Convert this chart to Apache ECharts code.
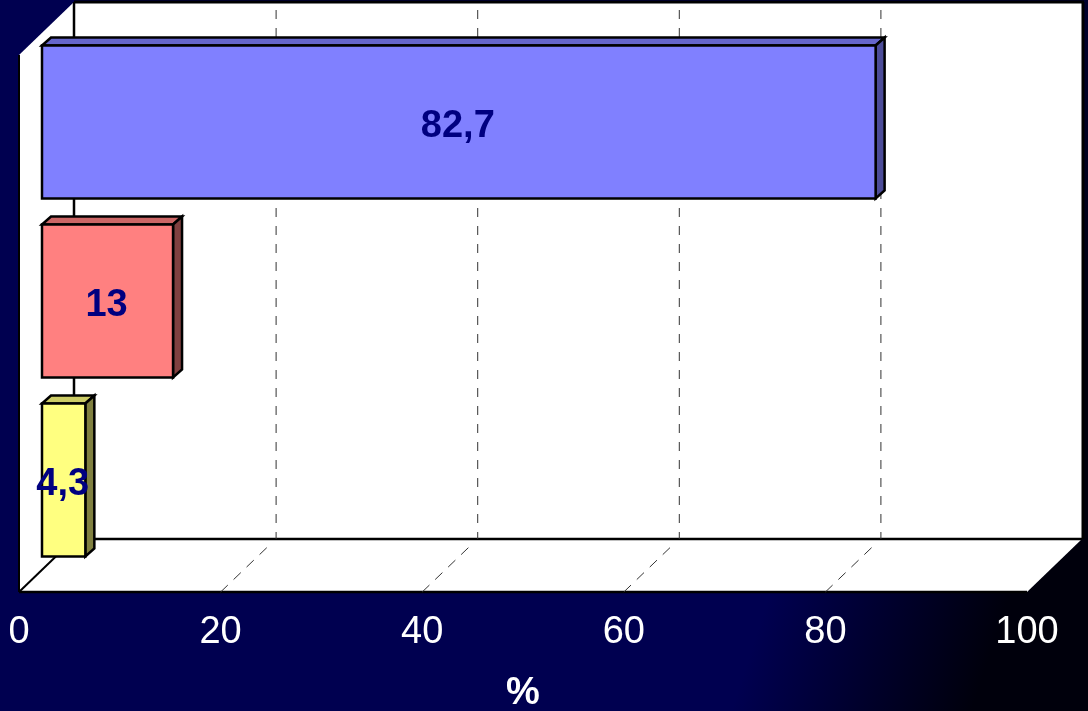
<!DOCTYPE html>
<html>
<head>
<meta charset="utf-8">
<style>html,body{margin:0;padding:0;background:#000050}#c{width:1088px;height:711px}</style>
<script src="https://cdn.jsdelivr.net/npm/echarts@6/dist/echarts.min.js"></script>
</head>
<body>
<div id="c"></div>
<script>
var categories = ['A', 'B', 'C'];
var values = [82.7, 13, 4.3];
var gridTicks = [20, 40, 60, 80];
var frontColors = ['#8080FF', '#FF8080', '#FFFF80'];
var topColors = ['#6666CC', '#CC6666', '#CCCC66'];
var sideColors = ['#4D4D99', '#804040', '#808040'];
var axisName = '%';

var DX = 55, DY = 53;
var FONT = '"Liberation Sans", Arial, sans-serif';

function poly(points, fill, stroke, w) {
  return { type: 'polygon', shape: { points: points }, style: { fill: fill, stroke: stroke, lineWidth: w, lineJoin: 'miter' } };
}
function seg(x1, y1, x2, y2, stroke, w, dash) {
  return { type: 'line', shape: { x1: x1, y1: y1, x2: x2, y2: y2 }, style: { stroke: stroke, lineWidth: w, lineDash: dash || null } };
}

var chart = echarts.init(document.getElementById('c'), null, { renderer: 'canvas' });
chart.setOption({
  animation: false,
  backgroundColor: {
    type: 'linear', x: 0, y: 0, x2: 1, y2: 0.5,
    colorStops: [
      { offset: 0, color: '#000050' },
      { offset: 0.8, color: '#000050' },
      { offset: 1, color: '#00000c' }
    ]
  },
  grid: { left: 19, top: 55, width: 1008, height: 537, outerBoundsMode: 'none' },
  xAxis: {
    type: 'value', min: 0, max: 100, interval: 20,
    axisLine: { show: false }, axisTick: { show: false }, splitLine: { show: false },
    axisLabel: { color: '#fff', fontFamily: FONT, fontSize: 38, margin: 22, hideOverlap: false, showMinLabel: true, showMaxLabel: true },
    name: axisName, nameLocation: 'middle', nameGap: 83,
    nameTextStyle: { color: '#fff', fontFamily: FONT, fontSize: 38, fontWeight: 'bold' }
  },
  yAxis: {
    type: 'category', inverse: true, data: categories,
    axisLine: { show: false }, axisTick: { show: false }, axisLabel: { show: false }, splitLine: { show: false }
  },
  series: [
    {
      type: 'custom', silent: true, z: 1, data: [0], coordinateSystem: 'cartesian2d',
      renderItem: function (params, api) {
        var g = params.coordSys, l = g.x, t = g.y, r = g.x + g.width, b = g.y + g.height;
        return {
          type: 'group',
          children: [
            poly([[l + DX, t - DY], [r + DX, t - DY], [r + DX, b - DY], [l + DX, b - DY]], '#fff', null, 0),
            poly([[l, t], [l + DX, t - DY], [l + DX, b - DY], [l, b]], '#fff', null, 0),
            poly([[l, b], [l + DX, b - DY], [r + DX, b - DY], [r, b]], '#fff', null, 0),
            seg(l + DX, t - DY, r + DX + 2, t - DY, '#000', 3),
            seg(r + DX + 1, t - DY, r + DX + 1, b - DY, '#000', 3),
            seg(l + DX, t - DY, l + DX, b - DY, '#000', 2.5),
            seg(l + DX, b - DY, r + DX, b - DY, '#000', 2.5),
            seg(l, t, l, b, '#000', 2),
            seg(l, b, r, b, '#000', 2.5),
            seg(l, b, l + DX, b - DY, '#000', 2)
          ]
        };
      }
    },
    {
      type: 'custom', silent: true, z: 2, data: gridTicks, coordinateSystem: 'cartesian2d',
      encode: { x: 0 },
      renderItem: function (params, api) {
        var g = params.coordSys;
        var x = api.coord([api.value(0), categories[0]])[0];
        var t = g.y, b = g.y + g.height;
        return {
          type: 'group',
          children: [
            seg(x + DX + 0.5, t - DY + 8, x + DX + 0.5, b - DY, '#333', 1, [9, 9]),
            seg(x, b, x + DX - 5, b - DY + 5, '#333', 1, [10, 8])
          ]
        };
      }
    },
    {
      type: 'custom', silent: true, z: 3, coordinateSystem: 'cartesian2d',
      data: values.map(function (v, i) { return [v, i]; }),
      encode: { x: 0, y: 1 },
      renderItem: function (params, api) {
        var i = params.dataIndex, v = api.value(0);
        var p0 = api.coord([0, api.value(1)]);
        var p1 = api.coord([v, api.value(1)]);
        var x0 = p0[0] + 23, x1 = p1[0] + 23, cy = p0[1] - 22.5;
        var h = api.size([0, 1])[1] * 0.855;
        var y0 = cy - h / 2, y1 = cy + h / 2, dx = 9, dy = 8;
        return {
          type: 'group',
          children: [
            poly([[x0, y0], [x0 + dx, y0 - dy], [x1 + dx, y0 - dy], [x1, y0]], topColors[i], '#000', 2.5),
            poly([[x1, y0], [x1 + dx, y0 - dy], [x1 + dx, y1 - dy], [x1, y1]], sideColors[i], '#000', 2.5),
            poly([[x0, y0], [x1, y0], [x1, y1], [x0, y1]], frontColors[i], '#000', 2.5),
            {
              type: 'text',
              style: {
                x: (x0 + x1) / 2 - 1, y: cy + 5,
                text: String(v).replace('.', ','),
                fill: '#000080', align: 'center', verticalAlign: 'middle',
                font: 'bold 38px ' + FONT
              }
            }
          ]
        };
      }
    }
  ]
});
</script>
</body>
</html>
